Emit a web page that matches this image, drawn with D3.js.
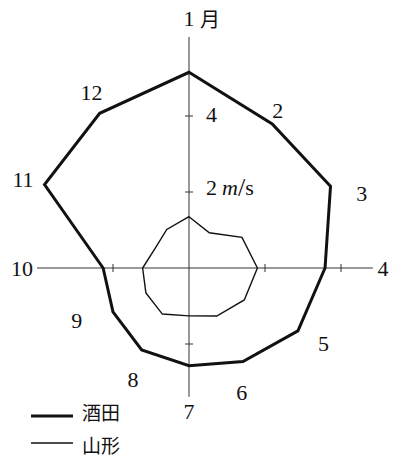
<!DOCTYPE html>
<html>
<head>
<meta charset="utf-8">
<script src="https://cdn.jsdelivr.net/npm/d3@7"></script>
<style>
  html, body { margin: 0; padding: 0; background: #fff; }
  svg { display: block; }
</style>
</head>
<body>
<svg id="chart" width="398" height="457"></svg>
<script>
// ---- data (monthly mean wind speed, m/s) ----
const months = ["1", "2", "3", "4", "5", "6", "7", "8", "9", "10", "11", "12"];
const sakata   = [5.15, 4.38, 4.30, 3.58, 3.31, 2.84, 2.57, 2.49, 2.31, 2.26, 4.39, 4.70]; // 酒田
const yamagata = [1.35, 1.07, 1.61, 1.80, 1.68, 1.46, 1.26, 1.40, 1.31, 1.22, 1.03, 1.17]; // 山形
const seriesNames = ["酒田", "山形"];
const tickValues = [2, 4];
const unitLabel = "m/s";
const monthSuffix = "月";

// ---- layout ----
const cx = 189, cy = 268;
const pxPerUnit = 38;
const r = d3.scaleLinear().domain([0, 1]).range([0, pxPerUnit]);
const angle = d3.scaleLinear().domain([0, 12]).range([0, 2 * Math.PI]);
// axis extents (in m/s units) for up, right, down, left
const axisExtent = { up: 6.08, right: 4.84, down: 3.39, left: 4.0 };
// which ticks are drawn on each arm
const armTicks = { up: [2, 4], right: [2, 4], down: [2], left: [2] };
// month label placement (degrees clockwise from top, px from centre)
const labelAngleDeg = [0, 29.4, 66.8, 90, 119.2, 157, 180, 206.6, 245, 270, 298, 331];
const labelRadiusPx = [250, 181, 188, 194, 154, 135, 143, 125, 124, 167, 188, 201];

const ink = "#111";
const serif = "'Liberation Serif', 'Times New Roman', serif";
const cjk = "'Noto Sans CJK JP', 'Noto Sans CJK SC', sans-serif";

const svg = d3.select("#chart");
const g = svg.append("g").attr("transform", `translate(${cx},${cy})`);

// ---- axes ----
const axisG = g.append("g").attr("stroke", "#333").attr("stroke-width", 1);
axisG.append("line").attr("x1", 0).attr("x2", 0)
  .attr("y1", -r(axisExtent.up)).attr("y2", r(axisExtent.down));
axisG.append("line").attr("y1", 0).attr("y2", 0)
  .attr("x1", -r(axisExtent.left)).attr("x2", r(axisExtent.right));

const tickLen = 4;
armTicks.up.forEach(v => axisG.append("line")
  .attr("x1", -tickLen).attr("x2", tickLen).attr("y1", -r(v)).attr("y2", -r(v)));
armTicks.down.forEach(v => axisG.append("line")
  .attr("x1", -tickLen).attr("x2", tickLen).attr("y1", r(v)).attr("y2", r(v)));
armTicks.right.forEach(v => axisG.append("line")
  .attr("y1", -tickLen).attr("y2", tickLen).attr("x1", r(v)).attr("x2", r(v)));
armTicks.left.forEach(v => axisG.append("line")
  .attr("y1", -tickLen).attr("y2", tickLen).attr("x1", -r(v)).attr("x2", -r(v)));

// tick labels on the upper arm
tickValues.forEach(v => {
  const t = g.append("text")
    .attr("x", 17).attr("y", -r(v) + (v === tickValues[0] ? -2 : 1))
    .attr("dominant-baseline", "middle")
    .attr("font-family", serif).attr("font-size", 22).attr("fill", ink)
    .text(v);
  if (v === tickValues[0]) {
    const parts = unitLabel.split("/");
    t.append("tspan").attr("dx", 5).attr("font-style", "italic").text(parts[0]);
    t.append("tspan").attr("font-size", 26).text("/");
    t.append("tspan").text(parts[1]);
  }
});

// ---- series polygons ----
const line = d3.lineRadial()
  .angle((d, i) => angle(i))
  .radius(d => r(d))
  .curve(d3.curveLinearClosed);

g.append("path").datum(yamagata)
  .attr("d", line).attr("fill", "none")
  .attr("stroke", ink).attr("stroke-width", 1.4).attr("stroke-linejoin", "miter");
g.append("path").datum(sakata)
  .attr("d", line).attr("fill", "none")
  .attr("stroke", ink).attr("stroke-width", 3).attr("stroke-linejoin", "miter");

// ---- month labels ----
months.forEach((m, i) => {
  const a = labelAngleDeg[i] * Math.PI / 180;
  const x = labelRadiusPx[i] * Math.sin(a);
  const y = -labelRadiusPx[i] * Math.cos(a);
  g.append("text")
    .attr("x", x).attr("y", y)
    .attr("text-anchor", "middle").attr("dominant-baseline", "central")
    .attr("font-family", serif).attr("font-size", 22).attr("fill", ink)
    .text(m);
  if (i === 0) {
    g.append("text")
      .attr("x", x + 11).attr("y", y)
      .attr("dominant-baseline", "central")
      .attr("font-family", cjk).attr("font-size", 20).attr("fill", ink)
      .text(monthSuffix);
  }
});

// ---- legend ----
const legend = svg.append("g").attr("transform", "translate(31,416)");
const legendWidths = [3, 1.4];
const legendDy = [0, 27];
const legendTextDy = [-5, 1];
seriesNames.forEach((name, i) => {
  legend.append("line")
    .attr("x1", 0).attr("x2", 42).attr("y1", legendDy[i]).attr("y2", legendDy[i])
    .attr("stroke", ink).attr("stroke-width", legendWidths[i]);
  legend.append("text")
    .attr("x", 51).attr("y", legendDy[i] + legendTextDy[i])
    .attr("dominant-baseline", "central")
    .attr("font-family", cjk).attr("font-size", 19).attr("fill", ink)
    .text(name);
});
</script>
</body>
</html>
